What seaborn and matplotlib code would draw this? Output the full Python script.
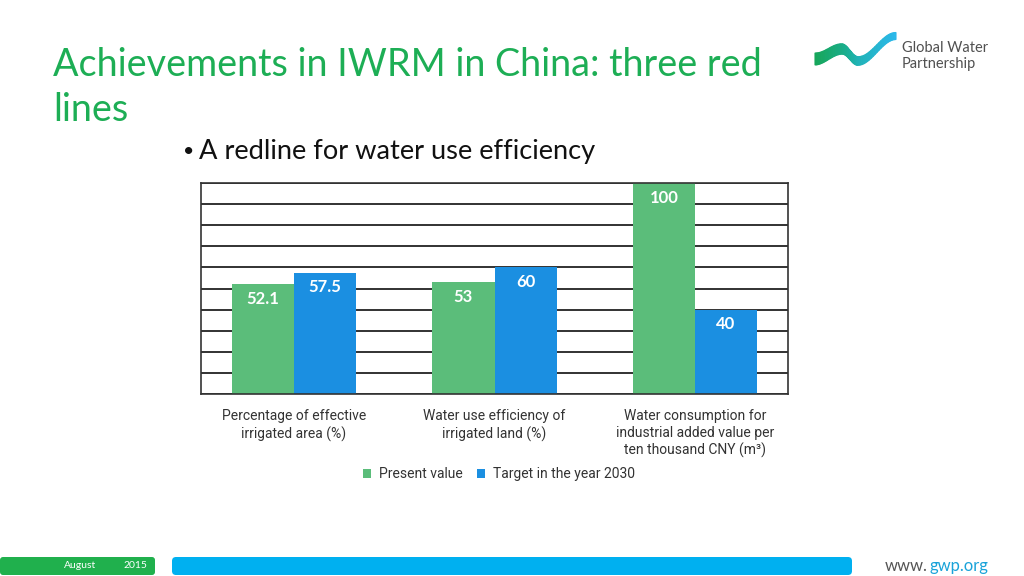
import numpy as np
import pandas as pd
import matplotlib
matplotlib.use("Agg")
import matplotlib.pyplot as plt
import seaborn as sns
from matplotlib.patches import FancyBboxPatch, Polygon
from matplotlib.colors import LinearSegmentedColormap

# ---- data ----
categories = [
    "Percentage of effective\nirrigated area (%)",
    "Water use efficiency of\nirrigated land (%)",
    "Water consumption for\nindustrial added value per\nten thousand CNY (m\u00b3)",
]
present_values = [52.1, 53, 100]
target_values = [57.5, 60, 40]
present_labels = ["52.1", "53", "100"]
target_labels = ["57.5", "60", "40"]
series_names = ["Present value", "Target in the year 2030"]

df = pd.DataFrame({
    "category": categories * 2,
    "value": present_values + target_values,
    "series": [series_names[0]] * 3 + [series_names[1]] * 3,
})

GREEN = "#5BBD7A"
BLUE = "#1B8FE1"
NARROW = ["Liberation Sans Narrow", "Roboto", "DejaVu Sans"]

sns.set_theme(style="white")
plt.rcParams["font.family"] = ["Lato", "DejaVu Sans"]

fig = plt.figure(figsize=(10.24, 5.76), dpi=100)
fig.patch.set_facecolor("white")

# background overlay in pixel coords
bg = fig.add_axes([0, 0, 1, 1], zorder=-5)
bg.set_xlim(0, 1024)
bg.set_ylim(576, 0)
bg.axis("off")

# title
bg.text(53, 65, "Achievements in IWRM in China: three red", fontsize=27.2,
        color="#1DAE55", va="center", ha="left")
bg.text(53, 110, "lines", fontsize=27.2, color="#1DAE55", va="center", ha="left")
bg.text(183, 152, "\u2022", fontsize=14, color="#111111", va="center", ha="left")
bg.text(199, 152, "A redline for water use efficiency", fontsize=19.6,
        color="#111111", va="center", ha="left")

# logo swoosh (decorative)
kx = [815, 842, 858, 896]
ky = [59, 49, 61, 36]
xs, ys = [], []
for i in range(len(kx) - 1):
    u = np.linspace(0, 1, 20, endpoint=False)
    w = (1 - np.cos(u * np.pi)) / 2
    xs.append(kx[i] + (kx[i + 1] - kx[i]) * u)
    ys.append(ky[i] + (ky[i + 1] - ky[i]) * w)
xs = np.concatenate(xs + [[kx[-1]]])
ys = np.concatenate(ys + [[ky[-1]]])
half = np.linspace(6, 3.5, len(xs))
cmap = LinearSegmentedColormap.from_list("sw", ["#17A65A", "#1BB09A", "#2BB8EA"])
cols = cmap(np.linspace(0, 1, len(xs) - 1))
for i in range(len(xs) - 1):
    quad = [(xs[i], ys[i] - half[i]), (xs[i + 1], ys[i + 1] - half[i + 1]),
            (xs[i + 1], ys[i + 1] + half[i + 1]), (xs[i], ys[i] + half[i])]
    bg.add_patch(Polygon(quad, closed=True, fc=cols[i], ec=cols[i], lw=0.8))
bg.text(902, 48, "Global Water", fontsize=10.5, color="#505050", va="center", ha="left")
bg.text(902, 64, "Partnership", fontsize=10.5, color="#505050", va="center", ha="left")

# footer
bg.add_patch(FancyBboxPatch((0, 557), 155, 18, boxstyle="round,pad=0,rounding_size=3",
                            fc="#20B04D", ec="none"))
bg.text(80, 566, "August", fontsize=7.5, color="white", va="center", ha="center")
bg.text(135, 566, "2015", fontsize=7.5, color="white", va="center", ha="center")
bg.add_patch(FancyBboxPatch((172, 557), 680, 18, boxstyle="round,pad=0,rounding_size=4",
                            fc="#00B0F0", ec="none"))
bg.text(885, 566, "www.", fontsize=12, color="#555555", va="center", ha="left")
bg.text(929, 566, "gwp.org", fontsize=12, color="#1AA3D9", va="center", ha="left")

# chart
ax = fig.add_axes([201 / 1024, (576 - 394) / 576, 587 / 1024, 211 / 576])
sns.barplot(data=df, x="category", y="value", hue="series",
            palette=[GREEN, BLUE], saturation=1, width=0.62, gap=0,
            edgecolor="none", linewidth=0, ax=ax, legend=True)
ax.set_ylim(0, 100)
ax.set_xlim(-0.464, 2.464)
ax.set_yticks(np.arange(0, 101, 10))
ax.set_yticklabels([])
ax.tick_params(axis="y", length=0)
ax.tick_params(axis="x", length=0, pad=11, labelsize=10, labelcolor="#333333")
for lab in ax.get_xticklabels():
    lab.set_family(NARROW)
    lab.set_linespacing(1.25)
ax.yaxis.grid(True, color="#222222", linewidth=1.3)
ax.set_axisbelow(True)
ax.set_xlabel("")
ax.set_ylabel("")
for side in ["left", "right", "top", "bottom"]:
    ax.spines[side].set_visible(True)
    ax.spines[side].set_color("#333333")
    ax.spines[side].set_linewidth(1.2)

for cont, labs in zip(ax.containers, [present_labels, target_labels]):
    anns = ax.bar_label(cont, labels=labs, padding=-10.5, color="white",
                        fontsize=12, fontweight="bold")
    for a in anns:
        a.set_va("center")

handles, labels = ax.get_legend_handles_labels()
ax.get_legend().remove()
fig.legend(handles, labels, loc="center", bbox_to_anchor=(499 / 1024, (576 - 474) / 576),
           ncol=2, frameon=False, handlelength=0.6, handleheight=0.6,
           handletextpad=0.6, columnspacing=1.0,
           prop={"size": 10, "family": NARROW},
           labelcolor="#333333")

fig.savefig("out.png", dpi=100)
